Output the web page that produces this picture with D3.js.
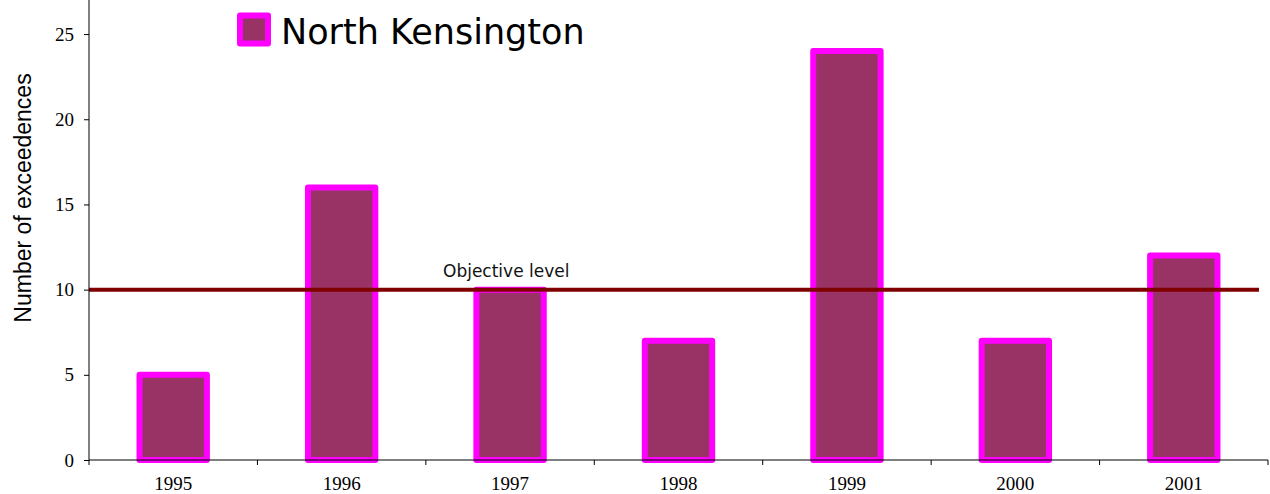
<!DOCTYPE html>
<html>
<head>
<meta charset="utf-8">
<script src="https://cdn.jsdelivr.net/npm/d3@7"></script>
<style>
  html, body { margin: 0; padding: 0; background: #fff; }
  svg { display: block; }
</style>
</head>
<body>
<svg id="chart" width="1270" height="494"></svg>
<script>
// Annual exceedences at North Kensington
const years = ["1995", "1996", "1997", "1998", "1999", "2000", "2001"];
const exceedences = [5, 16, 10, 7, 24, 7, 12];
const objectiveLevel = 10;
const yTicks = [0, 5, 10, 15, 20, 25];
const seriesName = "North Kensington";
const objectiveLabel = "Objective level";

const svg = d3.select("#chart");
const margin = { left: 89, right: 2, top: 0, bottom: 34 };
const W = 1270, H = 494;

const x = d3.scaleBand()
  .domain(years)
  .range([margin.left, W - margin.right])
  .paddingInner(0)
  .paddingOuter(0);

const y = d3.scaleLinear()
  .domain([0, 27])
  .range([H - margin.bottom, margin.top]);

const barW = x.bandwidth() * 0.4;

// Bars
svg.append("g")
  .selectAll("rect")
  .data(exceedences)
  .join("rect")
  .attr("x", (d, i) => x(years[i]) + (x.bandwidth() - barW) / 2)
  .attr("y", d => y(d))
  .attr("width", barW)
  .attr("height", d => y(0) - y(d))
  .attr("fill", "#993366")
  .attr("stroke", "#FF00FF")
  .attr("stroke-width", 6)
  .attr("stroke-linejoin", "round");

// Objective level line
svg.append("line")
  .attr("x1", margin.left)
  .attr("x2", 1259)
  .attr("y1", y(objectiveLevel))
  .attr("y2", y(objectiveLevel))
  .attr("stroke", "#800000")
  .attr("stroke-width", 4);

svg.append("text")
  .attr("x", 443)
  .attr("y", 277)
  .attr("font-family", "DejaVu Sans, sans-serif")
  .attr("font-size", 17)
  .attr("fill", "#111")
  .text(objectiveLabel);

// Y axis
const yAxis = svg.append("g")
  .attr("transform", `translate(${margin.left},0)`)
  .call(d3.axisLeft(y).tickValues(yTicks).tickSize(5).tickPadding(10).tickSizeOuter(0));
yAxis.select(".domain").attr("d", `M0,${y(0)}V0`).attr("stroke", "#000");
yAxis.selectAll("text")
  .attr("font-family", "Liberation Serif, Times New Roman, serif")
  .attr("font-size", 19)
  .attr("fill", "#000");

// X axis
const xAxisG = svg.append("g")
  .attr("transform", `translate(0,${y(0)})`);
xAxisG.append("line")
  .attr("x1", margin.left).attr("x2", W - margin.right)
  .attr("stroke", "#000");
const boundaries = years.map(d => x(d)).concat([x(years[years.length - 1]) + x.bandwidth()]);
xAxisG.selectAll("line.tick")
  .data(boundaries)
  .join("line")
  .attr("class", "tick")
  .attr("x1", d => d).attr("x2", d => d)
  .attr("y1", 0).attr("y2", 5)
  .attr("stroke", "#000");
xAxisG.selectAll("text")
  .data(years)
  .join("text")
  .attr("x", d => x(d) + x.bandwidth() / 2)
  .attr("y", 30)
  .attr("text-anchor", "middle")
  .attr("font-family", "Liberation Serif, Times New Roman, serif")
  .attr("font-size", 19)
  .attr("fill", "#000")
  .text(d => d);

// Y axis title
svg.append("text")
  .attr("transform", `translate(31,198) rotate(-90)`)
  .attr("text-anchor", "middle")
  .attr("font-family", "Liberation Sans, Arial, sans-serif")
  .attr("font-size", 23)
  .attr("fill", "#000")
  .text("Number of exceedences");

// Legend
const legend = svg.append("g");
legend.append("rect")
  .attr("x", 240).attr("y", 15.5)
  .attr("width", 28).attr("height", 28)
  .attr("fill", "#993366")
  .attr("stroke", "#FF00FF")
  .attr("stroke-width", 6)
  .attr("stroke-linejoin", "round");
legend.append("text")
  .attr("x", 281)
  .attr("y", 44)
  .attr("font-family", "DejaVu Sans, sans-serif")
  .attr("font-size", 35)
  .attr("fill", "#000")
  .text(seriesName);
</script>
</body>
</html>
